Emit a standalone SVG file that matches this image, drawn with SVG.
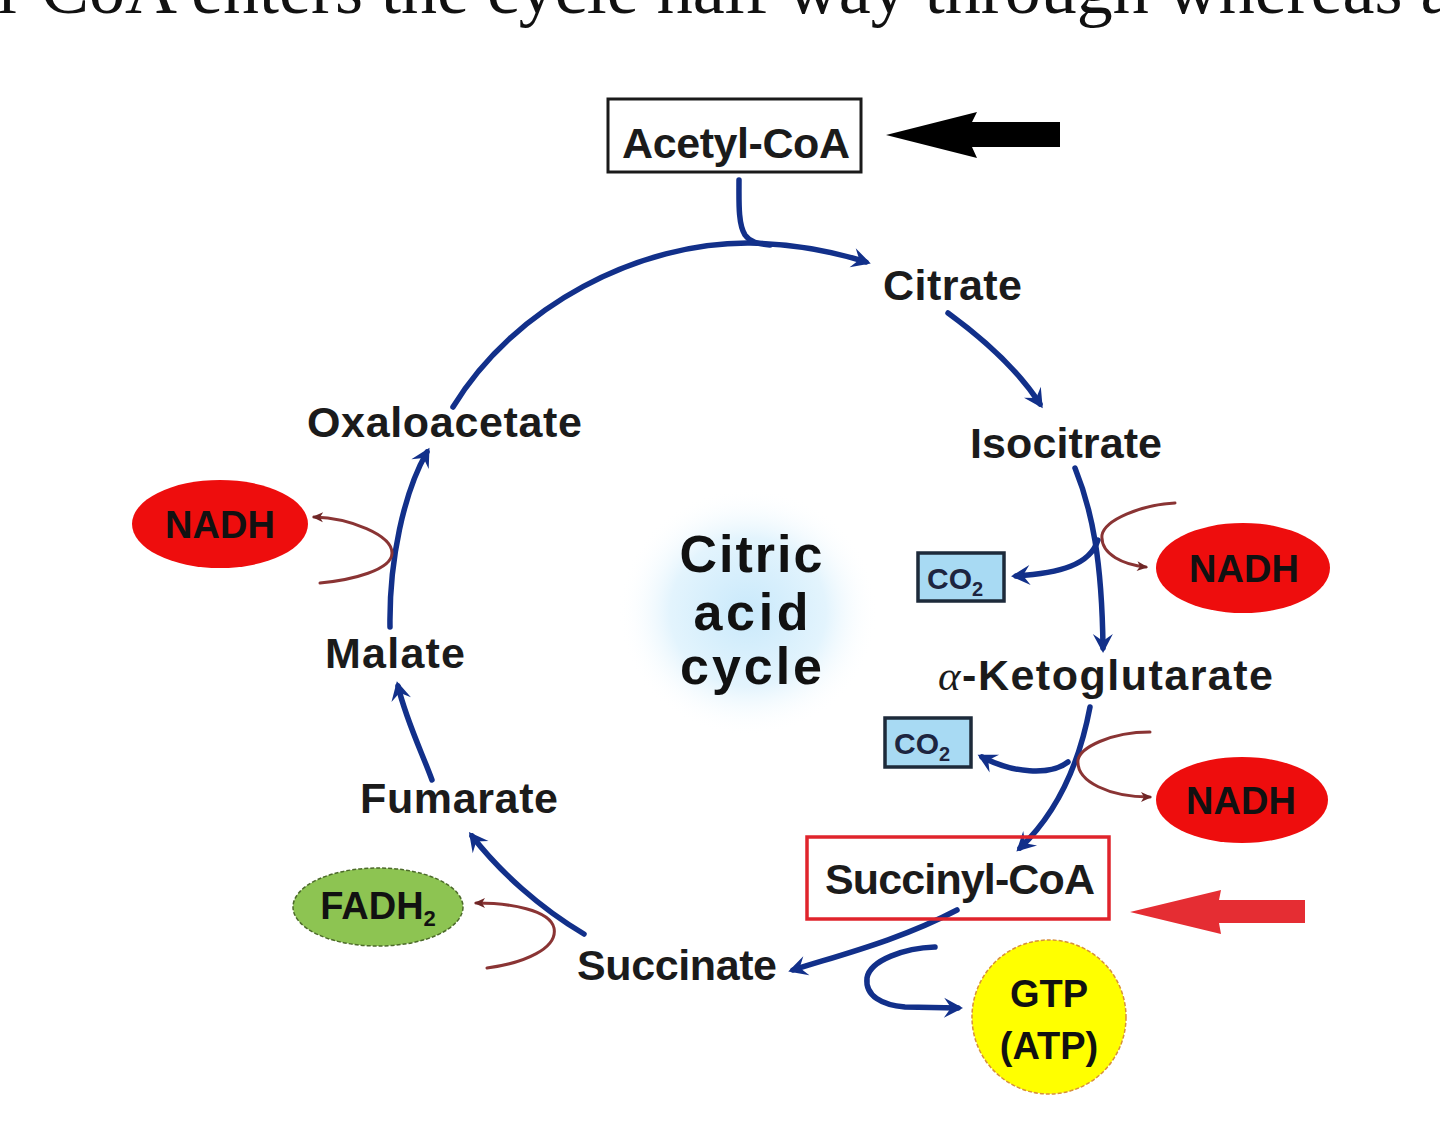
<svg xmlns="http://www.w3.org/2000/svg" width="1440" height="1127" viewBox="0 0 1440 1127">
<defs>
<style>
.lbl{font-family:"Liberation Sans",Arial,sans-serif;font-weight:bold;font-size:43px;fill:#1b1b1b}
.big{font-family:"Liberation Sans",Arial,sans-serif;font-weight:bold;font-size:52px;fill:#111;text-anchor:middle}
.pill{font-family:"Liberation Sans",Arial,sans-serif;font-weight:bold;font-size:38px;fill:#111;text-anchor:middle}
.co2{font-family:"Liberation Sans",Arial,sans-serif;font-weight:bold;font-size:30px;fill:#1d2540}
.blue{fill:none;stroke:#12308a;stroke-width:5.5;stroke-linecap:round}
.brown{fill:none;stroke:#8a3434;stroke-width:3;stroke-linecap:round}
.cobox{fill:#a8daf3;stroke:#1d2a3a;stroke-width:3.5}
</style>
<radialGradient id="glow" cx="0.5" cy="0.5" r="0.5">
<stop offset="0" stop-color="#c9e9fb"/>
<stop offset="0.6" stop-color="#e3f4fd"/>
<stop offset="1" stop-color="#ffffff" stop-opacity="0"/>
</radialGradient>
<marker id="ab" viewBox="-20 -11 24 22" refX="-5" refY="0" markerWidth="24" markerHeight="22" markerUnits="userSpaceOnUse" orient="auto">
<path d="M0,0 L-19,-10 L-12,0 L-19,10 Z" fill="#12308a"/>
</marker>
<marker id="ar" viewBox="-12 -7 14 14" refX="-2" refY="0" markerWidth="14" markerHeight="14" markerUnits="userSpaceOnUse" orient="auto">
<path d="M0,0 L-11,-5 L-8,0 L-11,5 Z" fill="#6e2626"/>
</marker>
</defs>
<rect width="1440" height="1127" fill="#ffffff"/>

<text x="-3" y="13" font-family="'Liberation Serif','Times New Roman',serif" font-size="72" fill="#111">l-CoA enters the cycle half way through whereas a</text>

<ellipse cx="748" cy="612" rx="130" ry="124" fill="url(#glow)"/>

<g id="center-title">
<text class="big" x="751" y="572" textLength="143">Citric</text>
<text class="big" x="751" y="630" textLength="115">acid</text>
<text class="big" x="751" y="684" textLength="142">cycle</text>
</g>

<g id="connectors">
<path class="blue" d="M453,407 C515,305 640,242 750,243 C795,244 835,252 866,262" marker-end="url(#ab)"/>
<path class="blue" d="M739,180 C739,202 738,224 745,235 C750,242 758,244 770,245"/>
<path class="blue" d="M948,313 C985,340 1018,370 1040,404" marker-end="url(#ab)"/>
<path class="blue" d="M1075,468 C1092,510 1102,560 1103,648" marker-end="url(#ab)"/>
<path class="blue" d="M1098,540 C1090,565 1060,573 1016,576" marker-end="url(#ab)"/>
<path class="brown" d="M1175,503 C1140,505 1105,520 1102,535 C1100,555 1125,565 1146,567" marker-end="url(#ar)"/>
<path class="blue" d="M1090,707 C1080,760 1060,810 1020,848" marker-end="url(#ab)"/>
<path class="blue" d="M1068,762 C1050,776 1012,773 982,757" marker-end="url(#ab)"/>
<path class="brown" d="M1150,732 C1110,732 1080,748 1078,760 C1076,782 1110,797 1150,797" marker-end="url(#ar)"/>
<path class="blue" d="M957,910 C900,940 840,955 793,970" marker-end="url(#ab)"/>
<path class="blue" d="M935,947 C905,948 870,960 867,978 C865,996 882,1005 905,1007 L958,1008" marker-end="url(#ab)"/>
<path class="blue" d="M584,934 C540,908 500,872 472,836" marker-end="url(#ab)"/>
<path class="brown" d="M487,968 C525,963 558,948 554,928 C550,910 510,903 476,903" marker-end="url(#ar)"/>
<path class="blue" d="M432,780 C423,755 406,720 398,686" marker-end="url(#ab)"/>
<path class="blue" d="M390,627 C389,560 404,492 427,452" marker-end="url(#ab)"/>
<path class="brown" d="M320,583 C352,580 392,570 392,553 C392,535 350,518 314,517" marker-end="url(#ar)"/>
</g>

<g id="acetyl-coa">
<rect x="608" y="99" width="253" height="73" fill="#fff" stroke="#1a1a1a" stroke-width="3"/>
<text class="lbl" x="622" y="158" textLength="228">Acetyl-CoA</text>
</g>
<g id="black-arrow">
<path d="M886,135 L977,112 L972,122 L1060,122 L1060,147 L972,147 L977,158 Z" fill="#000"/>
</g>

<g id="citrate"><text class="lbl" x="883" y="300" textLength="139">Citrate</text></g>
<g id="isocitrate"><text class="lbl" x="970" y="458" textLength="192">Isocitrate</text></g>
<g id="ketoglutarate"><text class="lbl" x="938" y="690" textLength="335"><tspan font-family="'Liberation Serif','Times New Roman',serif" font-style="italic" font-weight="normal">α</tspan>-Ketoglutarate</text></g>

<g id="succinyl-coa">
<rect x="807" y="837" width="302" height="82" fill="none" stroke="#e0242c" stroke-width="3.5"/>
<text class="lbl" x="825" y="894" textLength="270">Succinyl-CoA</text>
</g>
<g id="red-arrow">
<path d="M1130,912 L1221,890 L1219,900 L1305,900 L1305,923 L1219,923 L1221,934 Z" fill="#e52d33"/>
</g>

<g id="succinate"><text class="lbl" x="577" y="980" textLength="200">Succinate</text></g>
<g id="fumarate"><text class="lbl" x="360" y="813" textLength="198">Fumarate</text></g>
<g id="malate"><text class="lbl" x="325" y="668" textLength="140">Malate</text></g>
<g id="oxaloacetate"><text class="lbl" x="307" y="437" textLength="275">Oxaloacetate</text></g>

<g id="co2-1">
<rect class="cobox" x="918" y="553" width="86" height="48"/>
<text class="co2" x="927" y="589">CO<tspan font-size="20" dy="7">2</tspan></text>
</g>
<g id="co2-2">
<rect class="cobox" x="885" y="718" width="86" height="49"/>
<text class="co2" x="894" y="754">CO<tspan font-size="20" dy="7">2</tspan></text>
</g>

<g id="nadh-left">
<ellipse cx="220" cy="524" rx="88" ry="44" fill="#ee0d0d"/>
<text class="pill" x="220" y="538">NADH</text>
</g>
<g id="nadh-1">
<ellipse cx="1243" cy="568" rx="87" ry="45" fill="#ee0d0d"/>
<text class="pill" x="1244" y="582">NADH</text>
</g>
<g id="nadh-2">
<ellipse cx="1242" cy="800" rx="86" ry="43" fill="#ee0d0d"/>
<text class="pill" x="1241" y="814">NADH</text>
</g>
<g id="fadh2">
<ellipse cx="378" cy="907" rx="85" ry="39" fill="#8dc452" stroke="#4c6a2a" stroke-width="1.5" stroke-dasharray="4 2"/>
<text class="pill" x="378" y="919" font-size="32">FADH<tspan font-size="22" dy="7">2</tspan></text>
</g>
<g id="gtp">
<circle cx="1049" cy="1017" r="77" fill="#ffff00" stroke="#d8903a" stroke-width="1.5" stroke-dasharray="4 2"/>
<text class="pill" x="1049" y="1007">GTP</text>
<text class="pill" x="1049" y="1059">(ATP)</text>
</g>
</svg>
